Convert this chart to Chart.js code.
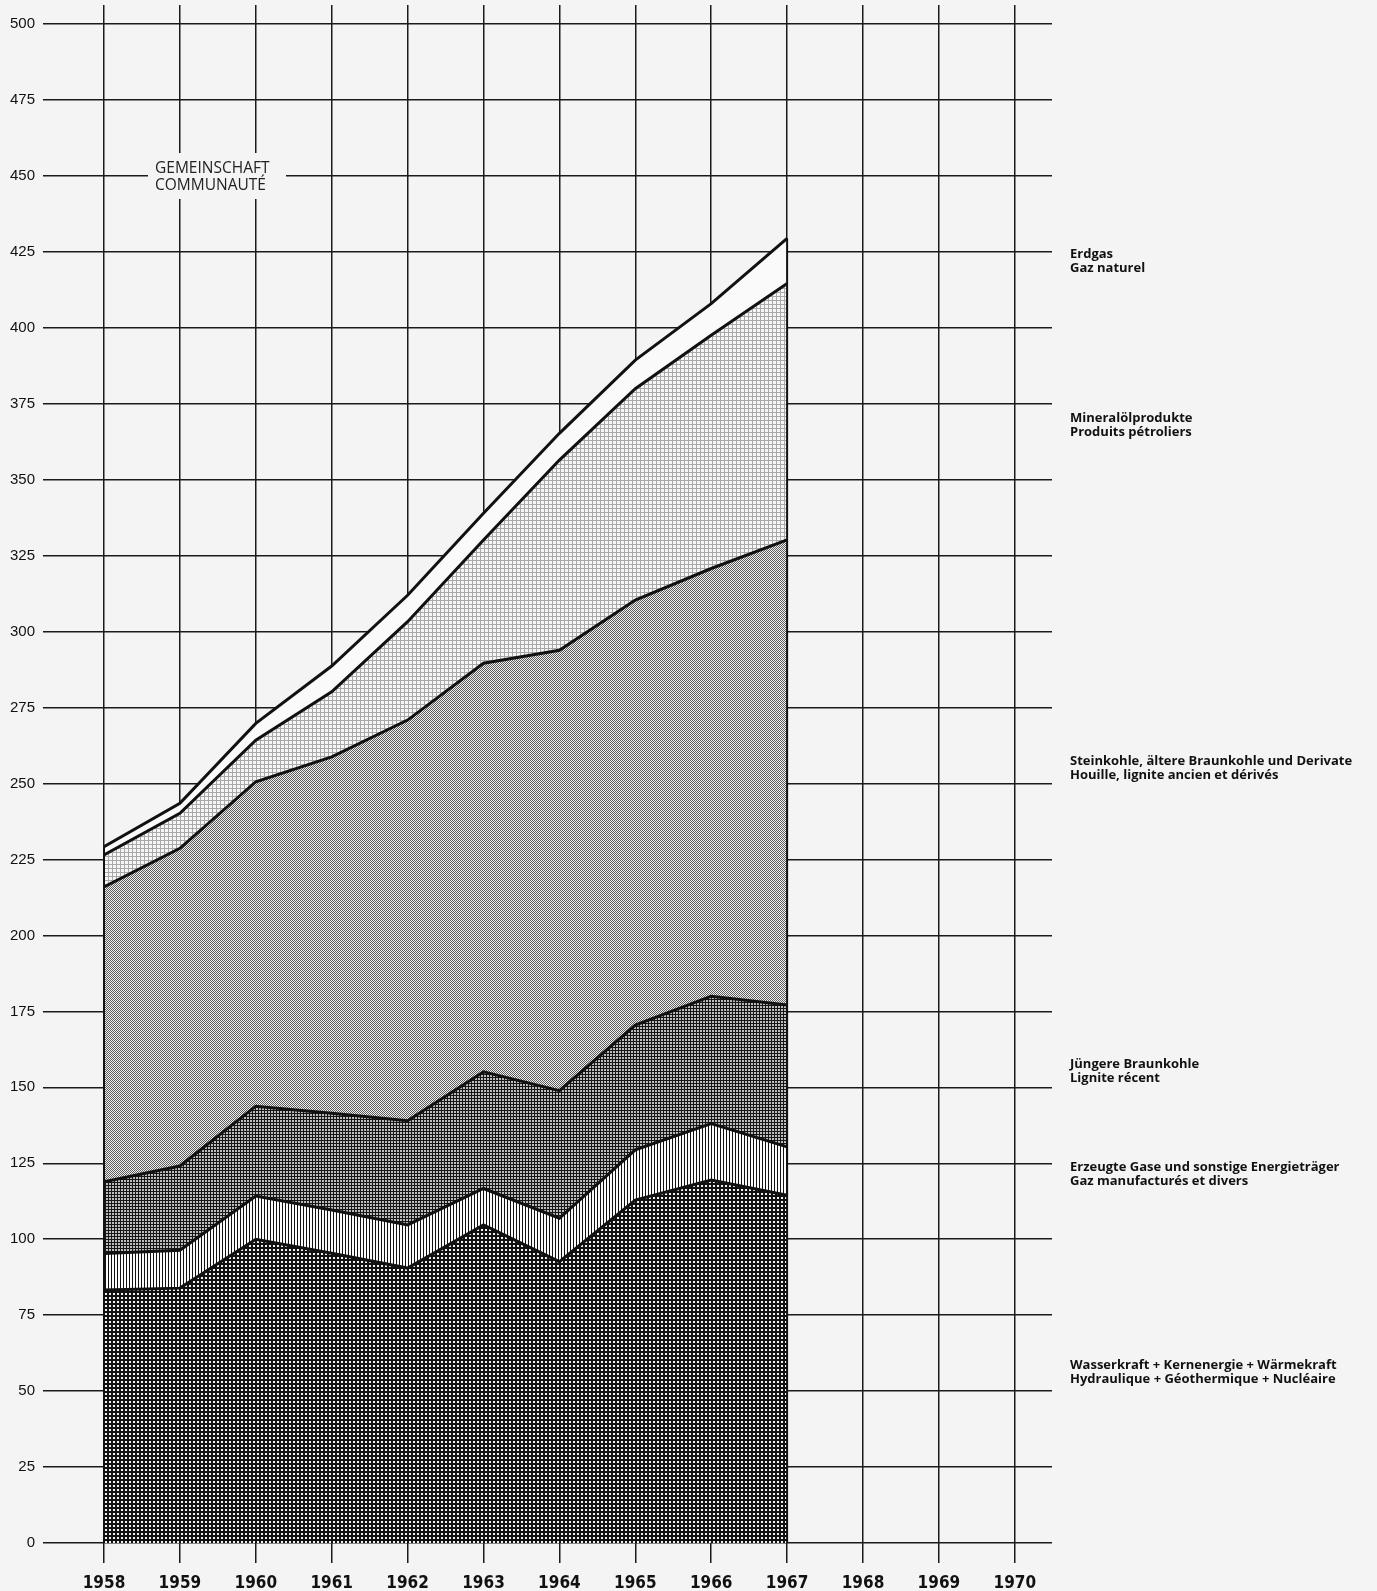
<!DOCTYPE html>
<html>
<head>
<meta charset="utf-8">
<script src="https://cdn.jsdelivr.net/npm/chart.js@4.4.1/dist/chart.umd.min.js"></script>
<style>
html, body { margin: 0; padding: 0; background: #f4f4f4; }
canvas { display: block; }
</style>
</head>
<body>
<canvas id="chart" width="1377" height="1591"></canvas>
<script>
// axis ticks
var years = [1958, 1959, 1960, 1961, 1962, 1963, 1964, 1965, 1966, 1967, 1968, 1969, 1970];
var dataYears = [1958, 1959, 1960, 1961, 1962, 1963, 1964, 1965, 1966, 1967];
var yTicks = [0, 25, 50, 75, 100, 125, 150, 175, 200, 225, 250, 275, 300, 325, 350, 375, 400, 425, 450, 475, 500];

// series, bottom to top
var wasserkraft = [83.3, 83.9, 100.0, 95.4, 90.5, 104.7, 92.6, 112.9, 119.5, 114.5];
var erzeugteGase = [12.0, 12.5, 14.2, 14.2, 14.2, 12.0, 14.3, 16.5, 18.6, 15.9];
var juengereBraunkohle = [23.6, 27.7, 29.6, 31.9, 34.3, 38.4, 42.0, 41.1, 41.9, 46.7];
var steinkohle = [97.1, 104.6, 106.8, 117.3, 131.9, 134.5, 145.0, 139.9, 140.8, 153.1];
var mineraloel = [10.5, 11.5, 13.7, 21.4, 32.4, 40.6, 62.6, 69.6, 76.8, 84.4];
var erdgas = [2.7, 3.3, 5.5, 8.5, 8.7, 8.8, 8.8, 9.4, 10.4, 14.9];

var seriesLabels = [
    ['Wasserkraft + Kernenergie + Wärmekraft', 'Hydraulique + Géothermique + Nucléaire'],
    ['Erzeugte Gase und sonstige Energieträger', 'Gaz manufacturés et divers'],
    ['Jüngere Braunkohle', 'Lignite récent'],
    ['Steinkohle, ältere Braunkohle und Derivate', 'Houille, lignite ancien et dérivés'],
    ['Mineralölprodukte', 'Produits pétroliers'],
    ['Erdgas', 'Gaz naturel']
];
// where the side labels sit, in axis units
var labelAnchors = [58.6, 123.8, 157.7, 257.4, 370.3, 424.3];

function makePattern(size, paint) {
    var c = document.createElement('canvas');
    c.width = size;
    c.height = size;
    var g = c.getContext('2d');
    paint(g);
    return g.createPattern(c, 'repeat');
}

var patterns = [
    makePattern(4, function (g) {
        g.fillStyle = '#111'; g.fillRect(0, 0, 4, 4);
        g.fillStyle = '#f2f2f2'; g.fillRect(1, 1, 2, 2);
    }),
    makePattern(3, function (g) {
        g.fillStyle = '#fbfbfb'; g.fillRect(0, 0, 3, 3);
        g.fillStyle = '#111'; g.fillRect(0, 0, 1, 3);
    }),
    makePattern(3, function (g) {
        g.fillStyle = '#bdbdbd'; g.fillRect(0, 0, 3, 3);
        g.fillStyle = '#161616'; g.fillRect(0, 0, 3, 1); g.fillRect(0, 0, 1, 3);
    }),
    makePattern(2, function (g) {
        g.fillStyle = '#f0f0f0'; g.fillRect(0, 0, 2, 2);
        g.fillStyle = '#5e5e5e'; g.fillRect(0, 0, 1, 1); g.fillRect(1, 1, 1, 1);
    }),
    makePattern(4, function (g) {
        g.fillStyle = '#f6f6f6'; g.fillRect(0, 0, 4, 4);
        g.fillStyle = '#a8a8a8'; g.fillRect(0, 0, 4, 1); g.fillRect(0, 0, 1, 4);
    }),
    '#fafafa'
];

function series(index, values) {
    return {
        label: seriesLabels[index][0],
        data: values.map(function (v, i) { return { x: dataYears[i], y: v }; }),
        fill: index === 0 ? 'origin' : '-1',
        backgroundColor: patterns[index],
        borderColor: '#111',
        borderWidth: 3,
        borderJoinStyle: 'miter',
        pointRadius: 0,
        tension: 0
    };
}

var totals = dataYears.map(function (y, i) {
    return wasserkraft[i] + erzeugteGase[i] + juengereBraunkohle[i] + steinkohle[i] + mineraloel[i] + erdgas[i];
});

var edgesPlugin = {
    id: 'edges',
    afterDatasetsDraw: function (chart) {
        var ctx = chart.ctx, x = chart.scales.x, y = chart.scales.y;
        ctx.save();
        ctx.strokeStyle = '#111';
        ctx.lineWidth = 2;
        [0, dataYears.length - 1].forEach(function (i) {
            var px = x.getPixelForValue(dataYears[i]);
            ctx.beginPath();
            ctx.moveTo(px, y.getPixelForValue(0));
            ctx.lineTo(px, y.getPixelForValue(totals[i]));
            ctx.stroke();
        });
        ctx.restore();
    }
};

var textPlugin = {
    id: 'texts',
    beforeDatasetsDraw: function (chart) {
        var ctx = chart.ctx, a = chart.chartArea;
        ctx.save();
        ctx.fillStyle = '#f4f4f4';
        ctx.fillRect(a.left + 44, 153, 138, 46);
        ctx.fillStyle = '#222';
        ctx.font = '15.5px "Open Sans", Lato, sans-serif';
        ctx.textBaseline = 'middle';
        ctx.fillText('GEMEINSCHAFT', a.left + 51, 169);
        ctx.fillText('COMMUNAUTÉ', a.left + 51, 185.5);
        ctx.restore();
    },
    afterDraw: function (chart) {
        var ctx = chart.ctx, a = chart.chartArea, y = chart.scales.y;
        ctx.save();
        ctx.fillStyle = '#111';
        ctx.font = 'bold 13px "Open Sans", Lato, sans-serif';
        ctx.textBaseline = 'middle';
        seriesLabels.forEach(function (lines, i) {
            var py = y.getPixelForValue(labelAnchors[i]);
            ctx.fillText(lines[0], a.right + 18, py);
            ctx.fillText(lines[1], a.right + 18, py + 14.5);
        });
        ctx.restore();
    }
};

new Chart(document.getElementById('chart'), {
    type: 'line',
    data: {
        datasets: [
            series(0, wasserkraft),
            series(1, erzeugteGase),
            series(2, juengereBraunkohle),
            series(3, steinkohle),
            series(4, mineraloel),
            series(5, erdgas)
        ]
    },
    options: {
        responsive: false,
        animation: false,
        layout: { padding: { top: 5, right: 325, left: 0, bottom: 0 } },
        plugins: {
            legend: { display: false },
            tooltip: { enabled: false }
        },
        scales: {
            x: {
                type: 'linear',
                min: 1958,
                max: 1970.49,
                afterBuildTicks: function (s) { s.ticks = years.map(function (v) { return { value: v }; }); },
                afterFit: function (s) { s.height = 48; s.paddingLeft = 0; s.paddingRight = 0; },
                border: { display: false },
                grid: { color: '#1a1a1a', lineWidth: 1.5, tickLength: 20, tickColor: '#1a1a1a' },
                ticks: {
                    color: '#111',
                    padding: 10,
                    maxRotation: 0,
                    autoSkip: false,
                    font: { family: '"Liberation Sans Narrow", "DejaVu Sans Condensed", sans-serif', size: 17, weight: 'bold' },
                    callback: function (v) { return String(v); }
                }
            },
            y: {
                stacked: true,
                min: 0,
                max: 506.3,
                afterBuildTicks: function (s) { s.ticks = yTicks.map(function (v) { return { value: v }; }); },
                afterFit: function (s) { s.width = 104; s.paddingTop = 0; s.paddingBottom = 0; },
                border: { display: false },
                grid: { color: '#1a1a1a', lineWidth: 1.5, tickLength: 61, tickColor: '#1a1a1a' },
                ticks: {
                    color: '#111',
                    padding: 8,
                    font: { family: '"Liberation Sans", Arial, sans-serif', size: 15 }
                }
            }
        }
    },
    plugins: [edgesPlugin, textPlugin]
});
</script>
</body>
</html>
